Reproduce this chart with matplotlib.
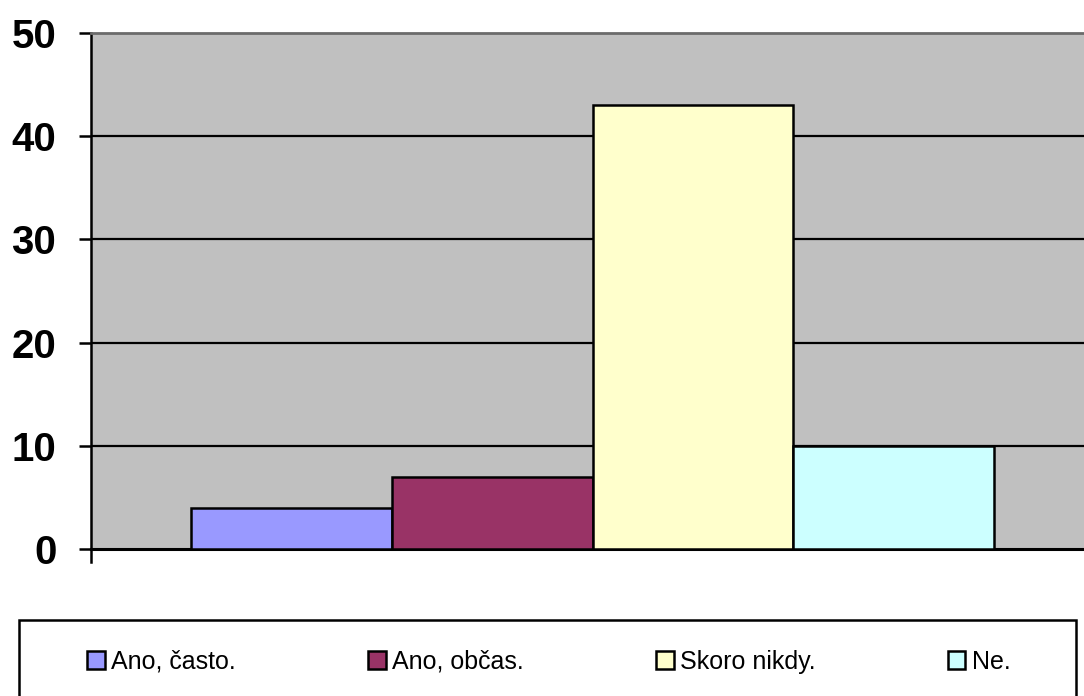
import matplotlib.pyplot as plt
from matplotlib.patches import Patch, Rectangle

# Data
categories = ["Ano, často.", "Ano, občas.", "Skoro nikdy.", "Ne."]
values = [4, 7, 43, 10]
colors = ["#9999FF", "#993366", "#FFFFCC", "#CCFFFF"]
yticks = [0, 10, 20, 30, 40, 50]

plt.rcParams['font.family'] = ['Liberation Sans', 'DejaVu Sans']

fig = plt.figure(figsize=(10.84, 6.96), dpi=100)
ax = fig.add_axes([91 / 1084, 147 / 696, 1003 / 1084, 516 / 696])
ax.set_facecolor("#C0C0C0")

positions = list(range(len(values)))
ax.bar(positions, values, width=1.0, color=colors, edgecolor="black",
       linewidth=1.8, zorder=3)

ax.set_xlim(-1, 4)
ax.set_ylim(0, 50)
ax.set_yticks(yticks)
ax.set_yticklabels([str(t) for t in yticks], fontsize=29, fontweight="bold")
ax.set_xticks([])
ax.tick_params(axis="y", direction="out", length=9, width=1.8, pad=16)

# gridlines
for t in yticks[1:-1]:
    ax.axhline(t, color="black", linewidth=1.6, zorder=1)

ax.spines["left"].set_linewidth(1.8)
ax.spines["bottom"].set_linewidth(2.2)
ax.spines["top"].set_color("#6B6B6B")
ax.spines["top"].set_linewidth(2)
ax.spines["right"].set_visible(False)

# category axis edge tick below the x axis
ax.plot([0, 0], [0, -0.026], transform=ax.transAxes, color="black",
        linewidth=1.8, clip_on=False)

# legend frame
fig.patches.append(Rectangle((19 / 1084, -0.02), 1057 / 1084, 0.129,
                             transform=fig.transFigure, facecolor="white",
                             edgecolor="black", linewidth=1.8, zorder=0))

handles = [Patch(facecolor=c, edgecolor="black", linewidth=1.8) for c in colors]
fig.legend(handles, categories, loc="center left",
           bbox_to_anchor=(87 / 1084, 0.049), ncol=4, frameon=False,
           fontsize=18, handlelength=0.7, handleheight=0.7,
           handletextpad=0.25, columnspacing=5.3, borderpad=0,
           borderaxespad=0)

fig.savefig("out.png", dpi=100)
